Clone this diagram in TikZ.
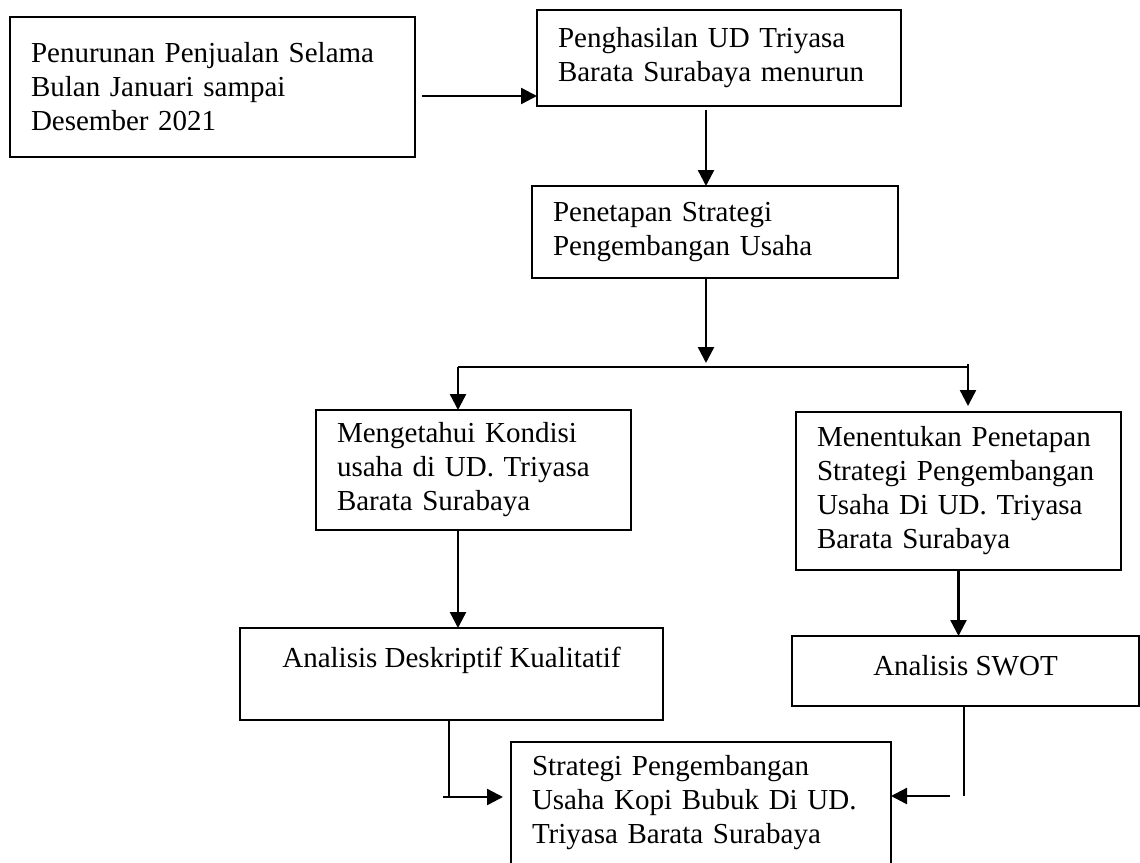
\documentclass[tikz,border=0pt]{standalone}
\usepackage{fontspec}
\setmainfont{Liberation Serif}
\usetikzlibrary{positioning}
\usetikzlibrary{arrows.meta,calc}
\tikzset{
    %Define standard arrow tip
    >={Triangle[length=16pt,width=16pt]},
    % Define arrow style
    panah/.style={
           ->,
           color=black,
           line width=2.4pt,},
    % thin connector without tip
    garis/.style={
           color=black,
           line width=1.3pt,}
}
\newcommand{\teksbox}{\fontsize{29pt}{34pt}\selectfont}

\begin{document}
\begin{tikzpicture}[x=1pt, y=-1pt, outer sep=0pt]
\tikzstyle{kotak}=[draw=black, fill=white, rectangle, line width=1.8pt, anchor=north west,
                   inner xsep=21pt, inner ysep=0pt, align=left, font=\teksbox]
\tikzstyle{kotaktengah}=[draw=black, fill=white, rectangle, line width=1.8pt, anchor=north west,
                   inner ysep=19pt, text height=20pt, align=center, font=\teksbox]

\useasboundingbox (0,0) rectangle (1140,862);

%%%%%%%%%%%%%%%%%%%%%%%%%%%%%%%%%
% top row
%%%%%%%%%%%%%%%%%%%%%%%%%%%%%%%%%
    \node[kotak, text width=363pt, minimum height=140pt] (turun) at (10,17)
        {Penurunan Penjualan Selama\\ Bulan Januari sampai\\ Desember 2021};
    \node[kotak, text width=322pt, minimum height=96pt] (hasil) at (537,10)
        {Penghasilan UD Triyasa\\ Barata Surabaya menurun};
    \node[kotak, text width=324pt, minimum height=92pt] (tetap) at (532,186)
        {Penetapan Strategi\\ Pengembangan Usaha};

%%%%%%%%%%%%%%%%%%%%%%%%%%%%%%%%%
% two branches
%%%%%%%%%%%%%%%%%%%%%%%%%%%%%%%%%
    \node[kotak, text width=273pt, minimum height=120pt] (kondisi) at (316,410)
        {Mengetahui Kondisi\\ usaha di UD. Triyasa\\ Barata Surabaya};
    \node[kotak, text width=283pt, minimum height=158pt] (tentukan) at (796,412)
        {Menentukan Penetapan\\ Strategi Pengembangan\\ Usaha Di UD. Triyasa\\ Barata Surabaya};
    \node[kotaktengah, minimum width=423pt, text depth=34pt] (deskriptif) at (240,628)
        {Analisis Deskriptif Kualitatif};
    \node[kotaktengah, minimum width=347pt, text depth=12pt] (swot) at (792,636)
        {Analisis SWOT};
    \node[kotak, text width=338pt, minimum height=122pt] (strategi) at (511,742)
        {Strategi Pengembangan\\ Usaha Kopi Bubuk Di UD.\\ Triyasa Barata Surabaya};

%%%%%%%%%%%%%%%%%%%%%%%%%%%%%%%%%
% connectors
%%%%%%%%%%%%%%%%%%%%%%%%%%%%%%%%%
\coordinate (masuk) at (537,96);
\coordinate (cabang) at (706,367);
\coordinate (kiri) at (458,367);
\coordinate (kanan) at (968,367);
\coordinate (sikukiri) at (449,797);
\coordinate (sikukanan) at (964,796);

\draw[panah, shorten <=7pt] (turun.east |- masuk) -- (masuk);
\draw[panah, shorten <=4pt] (hasil.south -| cabang) -- (tetap.north -| cabang);
\draw[panah] (tetap.south -| cabang) -- ([yshift=4pt]cabang);
\draw[line width=1.8pt] (kiri) -- (kanan);
\draw[panah] (kiri) -- (kondisi.north -| kiri);
\draw[panah, shorten >=6pt] ([yshift=3pt]kanan) -- (tentukan.north -| kanan);
\draw[panah] (kondisi.south -| kiri) -- (deskriptif.north -| kiri);
\draw[panah] (tentukan.south) -- (tentukan.south |- swot.north);

\draw[garis] (deskriptif.south -| sikukiri) -- (sikukiri);
\draw[panah, shorten <=-6pt, shorten >=8pt] (sikukiri) -- (strategi.west |- sikukiri);
\draw[garis] (swot.south -| sikukanan) -- (sikukanan);
\draw[panah, shorten <=14pt] (sikukanan) -- (strategi.east |- sikukanan);

\end{tikzpicture}
\end{document}
